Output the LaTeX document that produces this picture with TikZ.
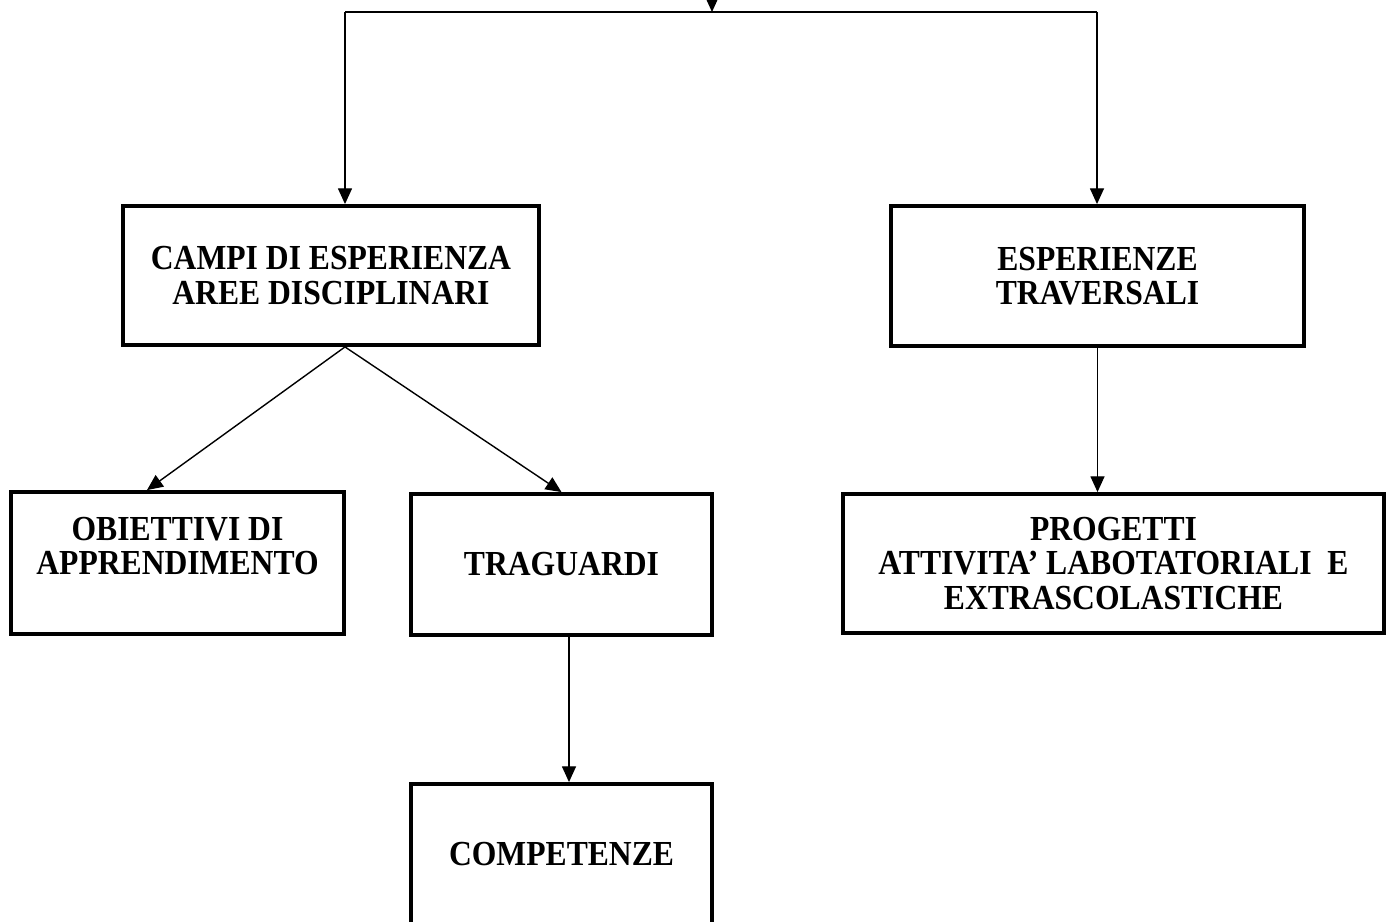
\documentclass[tikz,border=0pt]{standalone}
\usepackage{fontspec}
\setmainfont{Liberation Serif}[FakeStretch=0.9]
\usetikzlibrary{arrows.meta}
\tikzset{
  box/.style={draw,line width=2.2pt,inner sep=0pt,align=center,
    font=\fontsize{20}{19.5}\selectfont\bfseries},
  link/.style={line width=0.8pt},
  arr/.style={link,-{Triangle[length=9pt,width=8pt]}}
}
\begin{document}
\begin{tikzpicture}[x=0.02cm,y=-0.02cm]
         \useasboundingbox (0,0) rectangle (1390,922);
         \node[box,minimum width=8.32cm,minimum height=2.78cm] (campi) at (331,275.5) {CAMPI DI ESPERIENZA\\AREE DISCIPLINARI};
         \node[box,minimum width=8.26cm,minimum height=2.8cm] (esper) at (1097.5,276) {ESPERIENZE\\TRAVERSALI};
         \node[box,minimum width=6.66cm,minimum height=2.84cm] (obiett) at (177.5,563) {OBIETTIVI DI\\APPRENDIMENTO\\\mbox{}};
         \node[box,minimum width=6.02cm,minimum height=2.82cm] (trag) at (561.5,564.5) {TRAGUARDI};
         \node[box,minimum width=10.82cm,minimum height=2.78cm] (prog) at (1113.5,563.5) {PROGETTI\\ATTIVITA’ LABOTATORIALI~ E\\EXTRASCOLASTICHE};
         \node[box,minimum width=6.02cm,minimum height=2.82cm] (comp) at (561.5,854.5) {COMPETENZE};
         % top branch
         \coordinate (in) at (712,-40);
         \coordinate (tl) at (345,12);
         \coordinate (tr) at (1097,12);
         \draw[arr] (in) -- (in |- tl);
         \draw[link] (tl) -- (tr);
         \draw[arr] (tl) -- (tl |- campi.north);
         \draw[arr] (tr) -- (tr |- esper.north);
         % lower links
         \draw[arr] ([xshift=0.28cm]campi.south) -- ([xshift=-0.61cm]obiett.north);
         \draw[arr] ([xshift=0.28cm]campi.south) -- (trag.north);
         \draw[arr] (esper.south) -- (esper.south |- prog.north);
         \draw[arr] ([xshift=0.15cm]trag.south) -- ([xshift=0.15cm]comp.north);
      \end{tikzpicture}
\end{document}
